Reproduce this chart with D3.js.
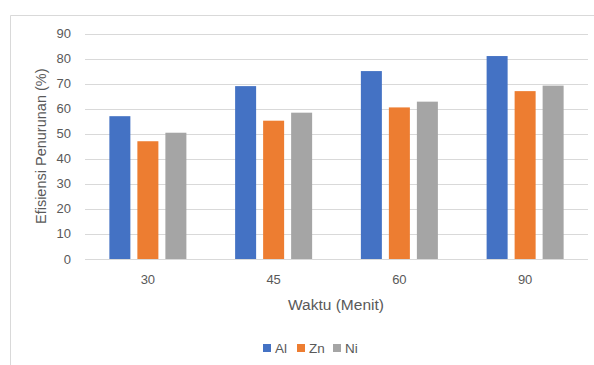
<!DOCTYPE html>
<html>
  <head>
    <meta charset="utf-8" />
    <style>
      body { margin: 0; background: #fff; }
      text { font-family: "Liberation Sans", "DejaVu Sans", sans-serif; fill: #595959; }
    </style>
  </head>
  <body>

<svg id="graph"></svg>

<script src="https://d3js.org/d3.v7.min.js"></script>
<script>
  const WIDTH = 594;
  const HEIGHT = 365;

  // data
  const CATEGORIES = ['30', '45', '60', '90'];
  const SERIES = ['Al', 'Zn', 'Ni'];
  const AL = [57, 69, 75, 81];
  const ZN = [47, 55.2, 60.5, 67];
  const NI = [50.4, 58.4, 62.8, 69.2];
  const Y_TICKS = [0, 10, 20, 30, 40, 50, 60, 70, 80, 90];
  const COLORS = ['#4472c4', '#ed7d31', '#a5a5a5'];

  const VALUES = [AL, ZN, NI];
  const MARGIN = { top: 33.5, right: 6, bottom: 106, left: 85 };

  const svg = d3.select('#graph')
    .attr('width', WIDTH)
    .attr('height', HEIGHT);

  // chart frame (only top and left edges show in the crop)
  svg.append('path')
    .attr('d', `M10.5,${HEIGHT} V15.5 H${WIDTH}`)
    .attr('fill', 'none')
    .attr('stroke', '#d9d9d9')
    .attr('stroke-width', 1);

  const x = d3.scaleBand()
    .domain(CATEGORIES)
    .range([MARGIN.left, WIDTH - MARGIN.right]);

  const xInner = d3.scaleBand()
    .domain(SERIES)
    .range([0, x.bandwidth()])
    .paddingInner(0.25)
    .paddingOuter(0.87);

  const y = d3.scaleLinear()
    .domain([0, 90])
    .range([HEIGHT - MARGIN.bottom, MARGIN.top]);

  // gridlines
  svg.append('g')
    .selectAll('line')
    .data(Y_TICKS)
    .join('line')
    .attr('x1', MARGIN.left)
    .attr('x2', WIDTH - MARGIN.right)
    .attr('y1', d => Math.round(y(d)) + 0.5)
    .attr('y2', d => Math.round(y(d)) + 0.5)
    .attr('stroke', '#d9d9d9')
    .attr('stroke-width', 1);

  // bars
  const groups = svg.append('g')
    .selectAll('g')
    .data(CATEGORIES)
    .join('g')
    .attr('transform', d => `translate(${x(d)},0)`);

  groups.selectAll('rect')
    .data((c, i) => SERIES.map((s, j) => ({ s, v: VALUES[j][i], c: COLORS[j] })))
    .join('rect')
    .attr('x', d => xInner(d.s))
    .attr('width', xInner.bandwidth())
    .attr('y', d => y(d.v))
    .attr('height', d => y(0) - y(d.v))
    .attr('fill', d => d.c);

  // y tick labels
  svg.append('g')
    .selectAll('text')
    .data(Y_TICKS)
    .join('text')
    .attr('x', 71)
    .attr('y', d => y(d))
    .attr('dy', '0.35em')
    .attr('text-anchor', 'end')
    .attr('font-size', 13)
    .text(d => d);

  // x tick labels
  svg.append('g')
    .selectAll('text')
    .data(CATEGORIES)
    .join('text')
    .attr('x', d => x(d) + x.bandwidth() / 2)
    .attr('y', 279)
    .attr('dy', '0.35em')
    .attr('text-anchor', 'middle')
    .attr('font-size', 13)
    .text(d => d);

  // axis titles
  svg.append('text')
    .attr('x', 336)
    .attr('y', 305)
    .attr('dy', '0.35em')
    .attr('text-anchor', 'middle')
    .attr('font-size', 15.5)
    .text('Waktu (Menit)');

  svg.append('text')
    .attr('transform', `translate(41,${(y(0) + y(90)) / 2}) rotate(-90)`)
    .attr('dy', '0.35em')
    .attr('text-anchor', 'middle')
    .attr('font-size', 14.5)
    .text('Efisiensi Penurunan (%)');

  // legend
  const legendX = [263, 297, 333];
  const legend = svg.append('g')
    .selectAll('g')
    .data(SERIES)
    .join('g')
    .attr('transform', (d, i) => `translate(${legendX[i]},348)`);

  legend.append('rect')
    .attr('x', 0)
    .attr('y', -4)
    .attr('width', 8)
    .attr('height', 8)
    .attr('fill', (d, i) => COLORS[i]);

  legend.append('text')
    .attr('x', 12)
    .attr('dy', '0.35em')
    .attr('font-size', 13.5)
    .text(d => d);
</script>
  </body>
</html>
